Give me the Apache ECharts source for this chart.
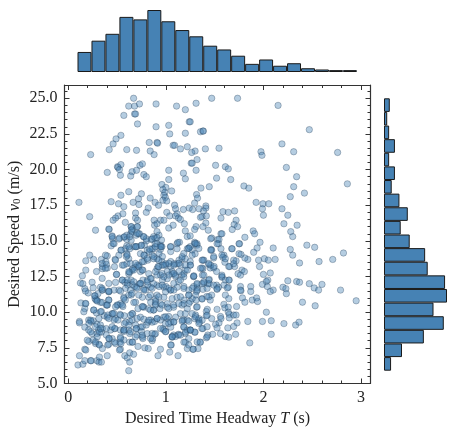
<!DOCTYPE html>
<html><head><meta charset="utf-8"><style>html,body{margin:0;padding:0;background:#fff}#c{width:457px;height:434px}</style>
<script src="https://cdn.jsdelivr.net/npm/echarts@6/dist/echarts.min.js"></script></head><body><div id="c"></div>
<script>
const headwayHistCounts=[32,50,61,88,84,99,81,67,57,42,36,26,13,20,10,14,6,4,3,3];
const speedHistCounts=[11,28,62,93,77,98,95,68,64,40,26,37,24,12,17,8,17,8,5,9];
const headwayBins=headwayHistCounts.map((_,i)=>'T'+i);
const speedBins=speedHistCounts.map((_,i)=>'V'+i);
const xMajorTicks=[0,1,2,3];
const xMinorTicks=[0.2,0.4,0.6,0.8,1.2,1.4,1.6,1.8,2.2,2.4,2.6,2.8];
const yMajorTicks=[5,7.5,10,12.5,15,17.5,20,22.5,25];
const yMinorTicks=[5.5,6,6.5,7,8,8.5,9,9.5,10.5,11,11.5,12,13,13.5,14,14.5,15.5,16,16.5,17,18,18.5,19,19.5,20.5,21,21.5,22,23,23.5,24,24.5,25.5];
const sparseUpper=[[.67,25],[.62,24.45],[.68,24.45],[.73,24.6],[.57,23.8],[.68,23.9],[.69,23.9],[.71,23.2],[.9,24.6],[1.11,24.45],[1.2,24.2],[1.24,23.35],[.9,23],[1.03,23.1],[1.04,22.5],[1.2,22.55],[.54,22.4],[.49,22.15],[.46,21.8],[.42,21.4],[.6,21.4],[.7,21.35],[.23,21.05],[.83,21.9],[.91,21.9],[.915,21.85],[.84,21.3],[.88,21.05],[1.075,21.7],[1.09,21.7],[1.15,21.45],[1.22,21.6],[1.26,20.45],[.505,20.2],[.51,20.15],[.54,20.35],[.525,20],[.4,19.8],[.535,19.6],[.655,19.85],[.64,19.55],[.7,19.95],[.735,20.3],[.76,20.4],[.775,19.65],[.8,19.5],[1.03,19.95],[1.03,19.3],[1.18,19.75],[1.2,19.35],[.96,18.95],[1,18.75],[.97,18.6],[.99,18.4],[.98,18.2],[1.06,18.5],[.995,18.05],[.97,17.85],[1.01,17.8],[.62,18.45],[.54,18.2],[.75,18.3],[.72,17.95],[.84,18],[.44,17.75],[.515,17.6],[.57,17.4],[.665,17.7],[.725,17.55],[.89,17.7],[.925,17.5],[.11,17.7],[.22,16.7],[.28,15.75],[.82,17.3],[.8,17],[1.01,17],[1.09,17.5],[1.1,17.25],[1.115,16.9],[1.18,17.2],[1.24,17.3],[1.04,16.75],[1.1,16.75],[1.13,16.6],[1.15,16.5],[1.19,16.2],[.56,16.9],[.51,16.75],[.485,16.6],[.46,16.45],[.585,16.3],[.69,16.6],[.71,16.45],[.69,16.95],[.88,16.45],[.945,16.45],[.98,16.45],[.885,16.1],[.91,16.2],[1.03,15.9],[1.075,16.1],[1.2,15.7],[1.22,15.3],[.42,15.8],[.645,16],[.71,16],[.655,15.65],[.64,15.5],[.72,15.5],[.6,15.4],[.57,15.25],[.45,15.35],[.455,15.15],[.525,15.2],[.6,15.1],[.77,15.3],[.8,15],[.85,15.1],[.89,15.2],[.93,15.4],[.91,15.65],[.44,14.65],[.47,14.8],[.78,14.7],[.89,14.8],[.945,14.7],[.96,14.6],[1.115,14.8],[1.14,14.9],[1.05,14.6],[1.235,14.5],[.67,14.6],[.6,14.65]];
const sparseRight=[[1.47,25],[1.735,25],[1.31,24.65],[2.15,24.5],[1.25,23.35],[1.355,22.65],[1.38,22.7],[1.385,22.7],[2.47,22.8],[2.19,21.8],[1.405,21.45],[1.545,21.5],[1.3,21.3],[1.265,21.2],[1.975,21.25],[1.985,21],[2.31,21.25],[2.76,21.2],[1.32,20.7],[1.27,20.45],[1.51,20.3],[1.61,20.2],[1.64,20.05],[1.31,19.95],[2.235,20.15],[2.34,19.5],[1.52,19.4],[1.665,19.3],[2.86,19],[2.31,18.8],[1.8,18.85],[1.85,18.7],[1.36,18.7],[1.445,18.8],[2.42,18.35],[2.275,18.1],[1.315,18.25],[1.325,18],[1.295,17.65],[1.925,17.7],[1.995,17.6],[2.055,17.6],[1.99,17.25],[2,16.8],[2.19,17.25],[2.25,16.8],[2.21,16.2],[2.345,16.1],[2.28,15.65],[2.3,15.3],[1.41,17.45],[1.41,17.3],[1.385,17.1],[1.34,17.25],[1.275,17.2],[1.585,17.05],[1.64,17],[1.705,17.1],[1.565,16.6],[1.415,16.75],[1.37,16.7],[1.355,16.65],[1.41,16.25],[1.31,16],[1.295,15.8],[1.38,16],[1.435,15.75],[1.72,16.45],[1.7,16.15],[1.735,16],[1.68,15.8],[1.895,15.7],[1.91,15.5],[1.565,15.5],[1.81,15.25],[1.47,15.2],[1.53,15.1],[1.54,14.8],[1.965,14.9],[1.755,14.8],[1.295,14.9],[1.32,14.7],[1.295,14.8],[1.25,15.35],[2.445,14.7],[2.525,14.55],[1.465,14.4],[1.565,14.45],[1.675,14.45],[1.935,14.5],[2.1,14.5],[2.275,14.4]];
const lowerRight=[[2.3,14],[2.37,13.45],[2.57,13.55],[2.71,13.7],[2.82,14.15],[2.01,13.75],[2.05,13.65],[2.12,13.7],[1.96,13.2],[2,12.65],[2.07,12.75],[2.045,12.25],[2.03,12.15],[2.25,12.2],[2.34,12.15],[2.37,12.1],[1.99,11.95],[2.04,11.8],[2.1,11.55],[2.07,11.45],[2.2,11.75],[2.23,11.65],[2.235,11.3],[2.47,12],[2.52,11.7],[2.565,11.55],[2.6,11.95],[2.79,11.55],[2.95,10.8],[2.4,10.7],[2.53,10.45],[2.03,10],[1.84,9.35],[1.99,9.35],[2.08,9.4],[2.21,9.2],[2.33,9.1],[2.365,9.3],[2.08,8.45],[1.86,7.85],[1.9,14.2],[1.84,13.7],[1.81,13.8],[1.77,14.05],[1.72,13.6],[1.695,13.65],[1.655,13.2],[1.705,13.2],[1.78,12.95],[1.805,12.85],[1.74,12.7],[1.95,13.65],[1.38,13.65],[1.47,14.35],[1.49,13.8],[1.595,14],[1.585,13.85],[1.605,13.5],[1.44,13.35],[1.455,13.1],[1.49,13.1],[1.38,13.05],[1.375,12.6],[1.52,12.85],[1.285,12.5],[1.575,12.5],[1.575,12.45],[1.61,12.25],[1.65,12.25],[1.595,11.9],[1.445,12.3],[1.43,12],[1.445,12],[1.39,12.05],[1.52,11.9],[1.54,11.75],[1.525,11.6],[1.64,11.75],[1.765,11.8],[1.87,11.8],[1.77,11.5],[1.87,11.45],[1.765,11.55],[1.785,11],[1.885,10.85],[1.93,11],[1.94,10.75],[1.81,10.7],[1.61,11.2],[1.645,10.95],[1.47,11.2],[1.455,10.85],[1.42,11.1],[1.32,11.95],[1.32,11.7],[1.315,11.45],[1.305,11.2],[1.38,11.6],[1.37,10.95],[1.31,10.85],[1.27,10.95],[1.595,10.55],[1.605,10.3],[1.64,10.35],[1.64,10],[1.725,10.4],[1.425,10.2],[1.415,10.05],[1.525,10.2],[1.315,10.35],[1.65,9.85],[1.65,9.6],[1.695,9.8],[1.72,9.8],[1.56,9.7],[1.565,9.55],[1.47,9.55],[1.415,9.75],[1.305,9.8],[1.295,9.55],[1.335,9.45],[1.345,9.3],[1.73,9.25],[1.695,9],[1.635,8.9],[1.545,9.25],[1.51,9.15],[1.525,8.9],[1.38,8.85],[1.295,8.6],[1.25,8.75],[1.48,8.45],[1.43,8.4],[1.415,8.2],[1.56,8.5],[1.61,8.3],[1.645,8.25],[1.715,8.45],[1.35,7.9],[1.28,7.4],[1.33,7.45]];
const lowerLeft=[[.22,14],[.26,13.7],[.18,13.6],[.34,13.7],[.4,13.95],[.385,13.55],[.35,13.2],[.4,13.1],[.48,13.7],[.555,13.3],[.495,12.65],[.18,12.95],[.145,12.55],[.29,12.85],[.35,13.05],[.125,12.05],[.15,12],[.17,11.65],[.205,11.35],[.245,12.1],[.33,11.75],[.35,11.55],[.415,11.45],[.47,11.55],[.52,11.55],[.275,11.15],[.275,10.95],[.295,10.85],[.33,10.7],[.415,10.85],[.4,10.5],[.13,10.65],[.18,10.6],[.17,10.25],[.26,10.15],[.29,9.95],[.34,10.05],[.115,9.35],[.115,9.25],[.21,9.45],[.235,9.35],[.255,9.4],[.17,8.95],[.37,9.75],[.4,9.65],[.45,9.9],[.485,9.55],[.47,9.45],[.53,9.85],[.295,9.15],[.33,9.1],[.35,8.85],[.31,8.75],[.34,8.6],[.295,8.5],[.21,8.75],[.245,8.5],[.21,7.95],[.255,8.05],[.28,7.8],[.315,7.75],[.35,7.45],[.39,8.4],[.415,7.75],[.485,7.8],[.53,7.9],[.535,7.4],[.48,8.85],[.535,8.75],[.57,8.65],[.62,8.75],[.63,9.35],[.655,9.45],[.575,9.75],[.655,9.9],[.59,9.3],[.435,8.75],[.45,8.15],[.535,8.25],[.57,8.05],[.63,7.9],[.655,7.9],[.17,7.4],[.18,7.35],[.115,6.95],[.1,6.3],[.15,6.35],[.17,6.6],[.23,6.6],[.235,6.6],[.295,6.6],[.315,6.5],[.34,6.5],[.32,6.85],[.4,6.95],[.58,6.95],[.605,6.8],[.63,7.15],[.67,7.05],[.63,6.5],[.62,5.9],[.715,7.6],[.785,7.5],[.82,7.45],[.92,6.95],[.945,7.4],[1.04,7.2],[1.055,7.7],[1.125,6.95],[1.22,7.45],[1.2,7.9],[.705,8.4],[.76,8.25],[.81,8.5],[.86,8],[.885,8.45],[.69,9.1],[.74,8.95],[.7,8.85],[.8,9.1],[.74,9.65],[.775,9.5],[.845,9.45],[.885,9.35],[.945,9.45],[.715,10.25],[.775,10.35],[.825,10.25],[.875,10.15],[.94,10.25],[.98,9.65],[1.015,9.55],[1.05,9.3],[1.1,9.65],[1.15,9.9],[1.185,9.45],[.97,8.85],[1,8.65],[1.05,8.95],[1.08,8.4],[1.13,8.45],[1.185,8.95],[1.22,8.75],[1.065,8.25],[1.2,8.5],[1.235,7.7],[.555,12.25],[.605,12.05],[.655,11.95],[.7,11.75],[.74,12],[.81,12.25],[.57,11.05],[.62,11.2],[.535,10.6],[.5,10.5],[.585,10.85],[.69,10.7],[.76,11.05],[.825,11.05],[.895,10.95],[.845,10.7],[.895,10.6],[.775,11.65],[.845,11.75],[.91,11.9],[.98,11.75],[1.05,11.55],[1.115,11.75],[.91,11.2],[.98,11.05],[1.065,10.95],[1.115,11.05],[1.185,10.85],[1.235,11.2],[1.015,10.6],[1.08,10.35],[1.165,10.5],[1.22,10.25],[1.2,9.9],[.62,13.75],[.6,13.4],[.69,13.15],[.655,12.95],[.62,12.7],[.725,13.3],[.74,12.85],[.775,13.55],[.86,14],[.91,13.75],[.96,13.55],[1,13.3],[.91,13.05],[.945,12.6],[1.015,12.35],[.825,12.7],[1.05,13.55],[1.115,13.4],[1.165,13.75],[1.065,12.7],[1.1,12.5],[1.165,12.6],[1.2,12.95],[1.25,13.3],[.585,14.45],[.6,14.1],[.705,14.6],[.74,14.1],[.81,14.35],[.875,14.45],[.945,14.4],[1.05,14.25],[1.115,14.45]];
const denseCentre=[[.58,12.1],[.61,11.9],[.645,12.25],[.68,11.8],[.73,12],[.765,12.25],[.815,11.9],[.85,12.35],[.63,12.8],[.66,13.05],[.71,13.3],[.765,12.95],[.78,14],[.815,13.65],[.83,14.25],[.75,14.7],[.695,14.6],[.63,14.45],[.595,13.9],[.54,14.35],[.645,15.05],[.695,15.4],[.66,15.85],[.73,15.5],[.8,15.15],[.645,16],[.875,15.3],[.91,14.8],[.945,14.6],[.86,14.45],[.93,14.1],[.965,13.9],[.875,13.75],[.92,13.2],[.965,13.3],[1,13.4],[1.05,13.2],[1.085,13.4],[1.065,12.85],[1.015,12.85],[1.1,12.6],[1.135,12.85],[1.185,12.7],[1.22,12.95],[.91,12.6],[.965,12.25],[.875,12],[.93,11.8],[1,11.8],[1.05,11.55],[1.13,12.15],[1.185,11.8],[1.235,11.55],[1.285,11.8],[1.22,14.45],[1.27,14.35],[1.3,14.1],[1.2,13.75],[1.135,13.65],[1.32,14.8],[1.25,14.6],[1.15,13.3],[1.25,13.55],[1.46,15.15],[1.545,15.1],[1.525,14.8],[1.575,15.5],[1.68,14.45],[1.75,14.8],[1.46,14.35],[1.49,13.9],[1.39,13.65],[1.46,13.3],[1.495,13.2],[1.37,13.1],[1.575,14],[1.61,13.75],[1.645,13.2],[1.695,13.4],[1.75,14.1],[1.575,12.6],[1.645,12.25],[1.765,12.6],[1.39,12.6],[1.44,12.25],[1.37,12],[1.49,11.9],[1.525,11.65],[1.63,11.7],[1.285,12.5],[.32,8.6],[.39,8.85],[.42,8.15],[.32,7.7],[.405,7.7],[.475,8.85],[.57,8.75],[.63,8.5],[.695,8.85],[.75,8.65],[.765,8.15],[.54,7.8],[.525,7.35],[.66,7.9],[.475,7.9],[.305,11.3],[.285,10.85],[.39,10.5],[.51,10.5],[.56,10.4],[.645,11.2],[.765,10.4],[.405,9.8],[.455,9.9],[.51,9.45],[.575,9.2],[.66,9.9],[.815,9.3],[.865,8.15],[.895,10.75],[.945,10.6],[.875,10.15],[1.015,10.35],[1.08,10.5],[1.185,10.6],[1.25,10.75],[1.03,9.7],[.995,9.2],[.91,9.55],[.86,9.3],[1.08,9.3],[1.17,9.45],[1.22,9.45],[1.27,9.9],[1.34,9.55],[.98,8.75],[.895,8.5],[1.13,8.4],[1.2,8.6],[1.25,8.75],[1.3,8.6],[1.37,8.85],[1.065,8.3],[1.1,8.3],[1.185,7.9],[1.235,8.15],[1.05,7.7],[1.28,7.4],[1.355,7.9]];
const denseUpperCrop=[[.416,15.83],[.45,15.29],[.46,14.82],[.52,15.13],[.577,15.29],[.63,15.29],[.648,15.76],[.706,15.99],[.706,15.53],[.775,15.29],[.86,15.13],[.91,15.22],[.956,15.06],[.894,14.59],[.952,14.59],[.836,14.43],[.747,14.66],[.689,14.59],[.621,14.59],[.543,14.35],[.519,14],[.485,13.65],[.474,13.19],[.382,14],[.348,13.42],[.392,13.35],[.382,13.07],[.495,12.65],[.604,14],[.638,13.42],[.689,13.42],[.724,13.19],[.758,12.95],[.672,12.95],[.621,12.84],[.57,13.3],[.775,14],[.758,13.54],[.809,13.77],[.877,13.89],[.928,13.65],[.98,13.3],[.928,13.19],[.894,12.84],[.962,12.72],[1.048,14.59],[1.123,14.89],[1.184,14.12],[1.235,14.47],[1.304,14.82],[1.338,14.47],[1.27,14],[1.167,13.89],[1.133,13.42],[1.082,13.3],[1.031,13.42],[1.201,13.3],[1.253,13.3],[1.372,13.65],[1.44,13.42],[1.355,13.07],[1.287,12.55],[1.184,12.48],[1.15,12.25],[1.082,12.72],[1.031,12.6],[.98,12.48],[.843,12.37],[.809,12.13],[.741,12.02],[.672,12.13],[.604,12.25],[.553,12.25],[.485,12.09],[.416,12.02],[.348,12.37],[.587,11.67],[.638,11.55],[.706,11.67],[.792,11.55],[.86,11.67],[.962,11.9],[1.031,11.67],[1.082,12.02],[1.184,11.67],[1.27,11.67],[1.32,12.02],[1.389,12.13],[1.423,11.67],[.348,11.55],[.416,11.43],[.536,11.48]];
const denseLowerCrop=[[.177,11.48],[.256,11.71],[.348,11.67],[.416,11.48],[.27,11.15],[.297,10.78],[.348,10.68],[.416,10.85],[.177,10.61],[.16,10.03],[.263,10.15],[.331,10.03],[.399,10.5],[.485,10.38],[.553,10.5],[.57,10.96],[.655,11.32],[.723,11.2],[.775,11.55],[.843,11.2],[.928,11.08],[.997,11.43],[1.082,11.55],[1.15,11.08],[1.235,11.2],[1.321,11.55],[1.372,10.92],[1.44,11.08],[.672,10.68],[.758,10.38],[.843,10.15],[.894,10.5],[.962,10.5],[1.03,10.26],[1.133,10.61],[1.235,10.61],[1.321,10.38],[.229,9.44],[.212,9.21],[.314,9.56],[.416,9.56],[.468,9.91],[.536,9.79],[.638,9.79],[.706,9.56],[.826,9.44],[.911,9.56],[.997,9.68],[1.082,9.33],[1.167,9.37],[1.235,9.37],[1.304,9.68],[1.372,9.44],[1.423,9.79],[.28,8.98],[.331,8.86],[.229,8.63],[.297,8.27],[.45,8.98],[.57,8.74],[.638,8.63],[.621,9.09],[.758,8.98],[.86,8.51],[.945,8.86],[1.03,9.21],[1.184,8.98],[1.253,8.74],[1.338,9.21],[1.423,8.98],[.195,8.04],[.28,7.92],[.416,8.16],[.536,8.16],[.689,8.27],[.758,8.39],[.843,8.16],[.997,8.63],[1.065,8.27],[1.15,8.39],[1.321,7.92],[1.423,8.27]];
const points=[...sparseUpper,...sparseRight,...lowerRight,...lowerLeft,...denseCentre,...denseUpperCrop,...denseLowerCrop];
const FONT='"Liberation Serif"',INK='#333',FILL='#4682b4';
const XR={min:-0.038,max:3.097},YR={min:5,max:25.93};
const mainRect={left:64.5,top:85,width:306,height:298.5,outerBoundsMode:'none',containLabel:false};
function xa(o){return Object.assign({type:'value',gridIndex:0,...XR,splitLine:{show:false},axisLine:{show:false,onZero:false},axisTick:{show:false},axisLabel:{show:false}},o)}
function ya(o){return Object.assign({type:'value',gridIndex:0,...YR,splitLine:{show:false},axisLine:{show:false,onZero:false},axisTick:{show:false},axisLabel:{show:false}},o)}
const lineS={show:true,onZero:false,lineStyle:{color:INK,width:1.2}};
const major=v=>({show:true,inside:true,length:5,customValues:v,lineStyle:{color:INK,width:1}});
const minor=v=>({show:true,inside:true,length:3,customValues:v,lineStyle:{color:INK,width:1}});
const labelS={color:'#222',fontFamily:FONT,fontSize:16};
const chart=echarts.init(document.getElementById('c'),null,{renderer:'canvas'});
chart.setOption({animation:false,
 grid:[{...mainRect},{...mainRect},{left:77.5,top:10,width:279.4,height:62,outerBoundsMode:'none'},{left:384,top:98.3,width:63,height:272.4,outerBoundsMode:'none'}],
 xAxis:[
  xa({position:'bottom',axisLine:lineS,axisTick:major(xMajorTicks),
    axisLabel:{show:true,...labelS,margin:6,customValues:xMajorTicks,formatter:v=>String(v)},
    name:'Desired Time Headway {i|T} (s)',nameLocation:'middle',nameGap:26,
    nameTextStyle:{...labelS,rich:{i:{fontFamily:FONT,fontStyle:'italic',fontSize:16,color:'#222'}}}}),
  xa({position:'top',axisLine:lineS,axisTick:major(xMajorTicks)}),
  xa({gridIndex:1,position:'bottom',axisTick:minor(xMinorTicks)}),
  xa({gridIndex:1,position:'top',axisTick:minor(xMinorTicks)}),
  {type:'category',gridIndex:2,data:headwayBins,show:false,boundaryGap:true},
  {type:'value',gridIndex:3,min:0,max:98,show:false}
 ],
 yAxis:[
  ya({position:'left',axisLine:lineS,axisTick:major(yMajorTicks),
    axisLabel:{show:true,...labelS,margin:7,customValues:yMajorTicks,formatter:v=>v.toFixed(1)},
    name:'Desired Speed {i|v}{s|0} (m/s)',nameLocation:'middle',nameGap:42,nameMoveOverlap:false,
    nameTextStyle:{...labelS,rich:{i:{fontFamily:FONT,fontStyle:'italic',fontSize:16,color:'#222'},s:{fontFamily:FONT,fontSize:11,color:'#222',verticalAlign:'bottom'}}}}),
  ya({position:'right',axisLine:lineS,axisTick:major(yMajorTicks)}),
  ya({gridIndex:1,position:'left',axisTick:minor(yMinorTicks)}),
  ya({gridIndex:1,position:'right',axisTick:minor(yMinorTicks)}),
  {type:'value',gridIndex:2,min:0,max:99,show:false},
  {type:'category',gridIndex:3,data:speedBins,show:false,boundaryGap:true}
 ],
 series:[
  {type:'scatter',xAxisIndex:0,yAxisIndex:0,data:points,symbolSize:6.4,clip:false,
    itemStyle:{color:'rgba(70,130,180,0.5)',borderColor:'rgba(35,60,85,0.5)',borderWidth:.8}},
  {type:'bar',xAxisIndex:4,yAxisIndex:4,data:headwayHistCounts,barWidth:'100%',
    itemStyle:{color:FILL,borderColor:'#1a1a1a',borderWidth:1,borderJoin:'miter'}},
  {type:'bar',xAxisIndex:5,yAxisIndex:5,data:speedHistCounts,barWidth:'100%',
    itemStyle:{color:FILL,borderColor:'#1a1a1a',borderWidth:1,borderJoin:'miter'}}
 ]});
</script></body></html>
